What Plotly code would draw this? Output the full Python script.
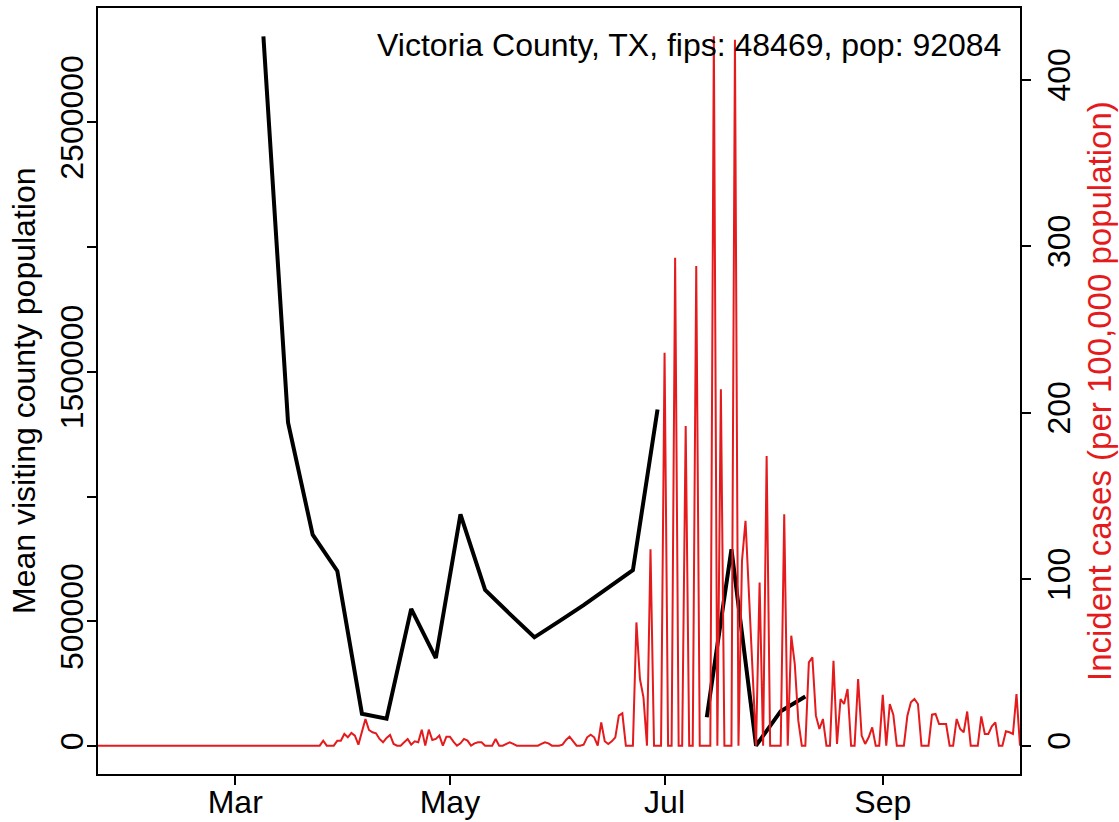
import pandas as pd
import plotly.graph_objects as go

# ── DATA ─────────────────────────────────────────────────────────────────────
# daily incident cases per 100,000 population, one value per day from 2020-01-22
case_start = "2020-01-22"
incident_cases = [
    0, 0, 0, 0, 0, 0, 0, 0, 0, 0, 0, 0, 0, 0, 0, 0,
    0, 0, 0, 0, 0, 0, 0, 0, 0, 0, 0, 0, 0, 0, 0, 0,
    0, 0, 0, 0, 0, 0, 0, 0, 0, 0, 0, 0, 0, 0, 0, 0,
    0, 0, 0, 0, 0, 0, 0, 0, 0, 0, 0, 0, 0, 0, 0, 0,
    3, 0, 0, 0, 3, 3, 7, 5, 7.6, 6, 0.6, 8, 16, 9.4, 8, 7.4,
    4, 2, 4.6, 6.4, 1, 0, 0, 2, 4, 0.6, 2.6, 2, 9.6, 0, 9.6, 3.4,
    4, 6, 0, 5.4, 5.4, 2.4, 0, 1.4, 4, 3, 0, 1.4, 2, 2, 0, 0,
    0, 4, 0, 0, 1, 2, 1, 0, 0, 0, 0, 0, 0, 0, 1, 2,
    1.4, 0, 0, 0, 0.6, 3.4, 5.4, 2.6, 0, 0, 0.6, 5, 6.6, 5, 0, 14,
    2.6, 1, 2.6, 5, 18, 19.4, 0, 0, 0, 74, 40, 29, 0, 118, 0, 0,
    0, 236, 0, 0, 293, 0, 0, 192, 0, 0, 288, 0, 0, 0, 0, 426,
    0, 214, 0, 0, 0, 424, 0, 111, 135, 90, 45, 0, 98, 0, 174, 0,
    0, 0, 0, 139, 0, 66, 49, 15, 0, 0, 50, 53, 18, 10, 16, 0,
    0, 51, 1, 28, 25, 34, 0, 0, 40, 6, 1, 5, 11, 0, 0, 30.5,
    0, 25, 18.6, 0, 0, 0, 18, 26, 28, 25, 0, 0, 0, 18.6, 19, 13,
    13, 13, 0, 0, 16, 10, 8, 20.5, 0, 0, 0, 17.6, 7, 7, 11.6, 14,
    0, 0, 8.6, 8, 7, 31, 0,
]
case_dates = pd.date_range(case_start, periods=len(incident_cases), freq="D")

# weekly mean visiting county population (None = missing week)
mobility_dates = [
    "2020-03-09", "2020-03-16", "2020-03-23", "2020-03-30", "2020-04-06",
    "2020-04-13", "2020-04-20", "2020-04-27", "2020-05-04", "2020-05-11",
    "2020-05-18", "2020-05-25", "2020-06-01", "2020-06-08", "2020-06-15",
    "2020-06-22", "2020-06-29", "2020-07-06", "2020-07-13", "2020-07-20",
    "2020-07-27", "2020-08-03", "2020-08-10",
]
mobility_values = [
    2844000, 1297000, 847000, 702000, 130000,
    110000, 550000, 353000, 929000, 626000,
    530000, 436000, 500000, 565000, 635000,
    705000, 1349000, None, 116000, 789000,
    2000, 140000, 199000,
]

left_ticks = [0, 500000, 1000000, 1500000, 2000000, 2500000]
left_labels = ["0", "500000", "", "1500000", "", "2500000"]
right_ticks = [0, 100, 200, 300, 400]
month_ticks = ["2020-03-01", "2020-05-01", "2020-07-01", "2020-09-01"]
month_labels = ["Mar", "May", "Jul", "Sep"]

title_text = "Victoria County, TX, fips: 48469, pop: 92084"

RED = "#E41A1C"
FONT = "Liberation Sans, Arial, sans-serif"
FS = 32


def r_range(vals):
    # base R style: data range padded 4% on each side
    v = [x for x in vals if x is not None]
    lo, hi = min(v), max(v)
    pad = 0.04 * (hi - lo)
    return [lo - pad, hi + pad]


fig = go.Figure()

fig.add_trace(go.Scatter(
    x=mobility_dates, y=mobility_values, mode="lines",
    line=dict(color="black", width=4), connectgaps=False,
    yaxis="y", showlegend=False,
))
fig.add_trace(go.Scatter(
    x=case_dates, y=incident_cases, mode="lines",
    line=dict(color=RED, width=2),
    yaxis="y2", showlegend=False,
))

axis_common = dict(
    showgrid=False, zeroline=False, showline=True, linecolor="black",
    linewidth=1.5, ticks="outside", ticklen=9, tickwidth=1.5,
    tickcolor="black", tickfont=dict(size=FS, color="black", family=FONT),
)

fig.update_layout(
    width=1119, height=822,
    margin=dict(l=98, r=99, t=8, b=48, autoexpand=False),
    paper_bgcolor="white", plot_bgcolor="white",
    font=dict(family=FONT, size=FS, color="black"),
    xaxis=dict(
        type="date", range=[case_dates[0], case_dates[-1]],
        tickvals=month_ticks, ticktext=month_labels, mirror=True,
        ticklabelstandoff=-10, **axis_common,
    ),
    yaxis=dict(
        range=r_range(mobility_values), tickvals=left_ticks,
        ticktext=left_labels, tickangle=-90, ticklabelstandoff=-9,
        **axis_common,
    ),
    yaxis2=dict(
        range=r_range(incident_cases), tickvals=right_ticks,
        ticktext=[str(t) for t in right_ticks], tickangle=-90,
        overlaying="y", side="right", ticklabelstandoff=1, **axis_common,
    ),
    annotations=[
        dict(text=title_text, xref="paper", yref="paper", x=1, y=1,
             xanchor="right", yanchor="middle", xshift=-17, yshift=-37,
             showarrow=False, font=dict(size=FS, color="black")),
        dict(text="Mean visiting county population", xref="paper",
             yref="paper", x=0, y=0.5, xshift=-74, textangle=-90,
             xanchor="center", yanchor="middle", showarrow=False,
             font=dict(size=FS, color="black")),
        dict(text="Incident cases (per 100,000 population)", xref="paper",
             yref="paper", x=1, y=0.5, xshift=79, textangle=-90,
             xanchor="center", yanchor="middle", showarrow=False,
             font=dict(size=33, color=RED)),
    ],
)

# page body has an 8px default margin; drop it so the figure fills the window
fig.write_html("out.html", config={"displayModeBar": False},
               post_script="document.body.style.margin='0';")
